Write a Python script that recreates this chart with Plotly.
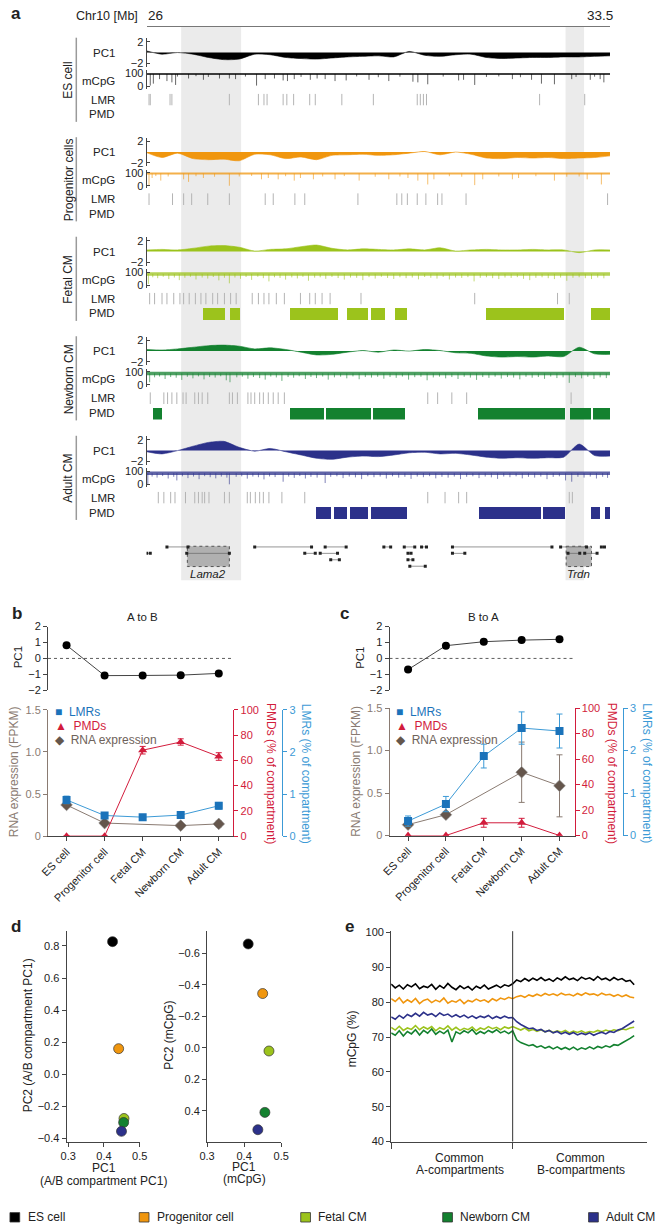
import plotly.graph_objects as go

W, H = 660, 1230
FONT = "Liberation Sans, Arial, Helvetica, sans-serif"
INK = "#222222"
AX = "#444444"

# ── panel a data: Chr10 26–33.5 Mb ─────────────────────────────
cells = ["ES cell", "Progenitor cells", "Fetal CM", "Newborn CM", "Adult CM"]
legend_names = ["ES cell", "Progenitor cell", "Fetal CM", "Newborn CM", "Adult CM"]
cell_colors = ["#000000", "#F0960E", "#9CC31C", "#13812F", "#2C318A"]

pc1_pos = [26.0, 26.25, 26.5, 26.75, 27.0, 27.25, 27.5, 27.75, 28.0, 28.25, 28.5,
           28.75, 29.0, 29.25, 29.5, 29.75, 30.0, 30.25, 30.5, 30.75, 31.0, 31.25,
           31.5, 31.75, 32.0, 32.25, 32.5, 32.75, 33.0, 33.25, 33.5]
pc1_es = [0.3, -0.3, 0.0, -0.3, -0.9, -1.3, -1.2, -0.3, -0.4, -0.9, -1.1, -1.2, -1.0,
          -0.8, -0.7, -0.6, -0.8, 0.2, -0.5, -0.7, -0.4, -0.3, -0.9, -1.1, -1.0, -0.9,
          -0.9, -0.8, -0.8, -0.7, -0.6]
pc1_prog = [-0.1, -1.0, -0.2, -1.2, -1.4, -1.3, -1.6, -0.4, -0.5, -1.2, -0.9, -1.4,
            -0.6, -0.5, -0.4, -0.6, -0.5, -0.2, 0.1, -0.5, 0.0, -0.4, -1.1, -1.2, -1.0,
            -1.1, -1.0, -1.2, -1.1, -1.0, -0.7]
pc1_fetal = [0.3, 0.4, 0.3, 0.6, 1.0, 1.1, 0.8, 0.1, 0.4, 0.5, 0.9, 1.2, 0.6, 0.3,
             0.5, 0.4, 0.3, 0.5, 0.3, 0.7, 0.1, 0.3, 0.4, 0.3, 0.3, 0.4, 0.3, 0.3,
             -0.2, 0.3, 0.3]
pc1_newborn = [0.3, 0.2, 0.4, 0.7, 1.0, 1.1, 0.9, 0.4, 0.6, 0.3, -0.2, -0.7, -0.6,
               -0.2, 0.1, -0.2, 0.2, 0.0, 0.3, 0.1, -0.3, -0.4, -0.9, -1.1, -1.0,
               -1.1, -0.9, -1.0, 0.7, -0.5, -0.6]
pc1_adult = [-0.2, -0.6, 0.0, 0.8, 1.5, 1.7, 0.6, -0.1, 0.4, -0.2, -0.8, -1.4, -1.6,
             -1.2, -1.0, -1.1, -0.8, -0.4, -0.3, -0.6, -0.5, -0.8, -1.2, -1.4, -1.3,
             -1.4, -1.3, -1.2, 1.2, -0.9, -1.0]
pc1_tracks = [pc1_es, pc1_prog, pc1_fetal, pc1_newborn, pc1_adult]

mcpg_level = [95, 95, 88, 88, 86]
es_dips = [(26.06, 5), (26.11, 20), (26.21, 55), (26.33, 40), (26.41, 30), (26.47, 10),
           (26.5, 75), (26.68, 60), (26.8, 78), (26.92, 50), (27.0, 72), (27.18, 60),
           (27.34, 60), (27.44, 55), (27.6, 75), (27.78, 5), (27.92, 55), (28.07, 60),
           (28.21, 45), (28.28, 40), (28.39, 55), (28.5, 72), (28.65, 50), (28.76, 60),
           (28.89, 55), (29.05, 40), (29.23, 45), (29.4, 76), (29.6, 50), (29.75, 70),
           (29.92, 40), (30.1, 74), (30.31, 35), (30.39, 30), (30.55, 15), (30.8, 75),
           (31.05, 45), (31.13, 50), (31.31, 10), (31.5, 72), (31.7, 76), (31.92, 55),
           (32.05, 70), (32.23, 50), (32.39, 20), (32.6, 15), (32.88, 55), (32.95, 72),
           (33.18, 50), (33.25, 74), (33.34, 55), (33.4, 30)]
prog_dips = [(26.04, 0), (26.09, 60), (26.15, 75), (26.23, 40), (26.35, 72), (26.6, 50),
             (26.68, 30), (26.8, 74), (26.92, 60), (27.1, 70), (27.34, 0), (27.5, 72),
             (27.7, 76), (27.86, 50), (27.97, 60), (28.13, 50), (28.25, 74), (28.39, 40),
             (28.49, 60), (28.7, 50), (28.85, 72), (29.05, 50), (29.2, 75), (29.44, 40),
             (29.7, 70), (29.92, 50), (30.1, 72), (30.23, 60), (30.39, 40), (30.55, 10),
             (30.65, 50), (30.9, 74), (31.1, 70), (31.31, 5), (31.44, 50), (31.7, 72),
             (31.92, 50), (32.02, 60), (32.3, 74), (32.6, 40), (32.8, 70), (33.0, 72),
             (33.13, 50), (33.36, 10)]
fetal_dips = [(26.03, 10), (26.1, 62), (26.18, 55), (26.27, 66), (26.36, 48), (26.45, 60),
              (26.53, 40), (26.62, 58), (26.71, 66), (26.8, 45), (26.9, 60), (26.99, 52),
              (27.08, 64), (27.17, 38), (27.26, 58), (27.34, 15), (27.43, 60), (27.52, 50),
              (27.61, 64), (27.7, 42), (27.8, 66), (27.89, 55), (27.98, 30), (28.07, 62),
              (28.16, 57), (28.25, 44), (28.35, 61), (28.44, 53), (28.53, 66), (28.62, 35),
              (28.72, 59), (28.81, 62), (28.9, 50), (29.0, 65), (29.1, 56), (29.2, 44),
              (29.3, 60), (29.4, 58), (29.5, 40), (29.6, 63), (29.7, 52), (29.8, 66),
              (29.9, 57), (30.0, 49), (30.1, 62), (30.2, 55), (30.3, 60), (30.4, 46),
              (30.5, 64), (30.6, 58), (30.7, 52), (30.8, 65), (30.9, 45), (31.0, 60),
              (31.1, 57), (31.2, 63), (31.3, 30), (31.4, 58), (31.5, 62), (31.6, 55),
              (31.7, 48), (31.8, 60), (31.9, 57), (32.0, 63), (32.1, 50), (32.2, 40),
              (32.3, 58), (32.4, 62), (32.5, 55), (32.6, 48), (32.7, 60), (32.8, 35),
              (32.9, 58), (33.0, 62), (33.1, 55), (33.2, 48), (33.3, 60), (33.4, 54)]
newborn_dips = [(26.05, 20), (26.13, 58), (26.21, 64), (26.3, 45), (26.39, 60), (26.48, 55),
                (26.57, 38), (26.66, 62), (26.75, 50), (26.84, 65), (26.93, 42), (27.02, 60),
                (27.11, 56), (27.2, 66), (27.29, 35), (27.35, 20), (27.46, 58), (27.55, 63),
                (27.64, 47), (27.73, 60), (27.83, 52), (27.92, 40), (28.01, 64), (28.1, 57),
                (28.19, 30), (28.29, 60), (28.38, 55), (28.47, 66), (28.57, 45), (28.66, 61),
                (28.75, 52), (28.85, 64), (28.94, 40), (29.04, 58), (29.14, 63), (29.24, 50),
                (29.34, 65), (29.44, 43), (29.54, 60), (29.64, 56), (29.74, 62), (29.84, 47),
                (29.94, 60), (30.04, 54), (30.14, 64), (30.24, 40), (30.34, 59), (30.44, 62),
                (30.54, 35), (30.64, 57), (30.74, 63), (30.84, 50), (30.94, 60), (31.04, 45),
                (31.14, 62), (31.24, 56), (31.34, 38), (31.44, 60), (31.54, 54), (31.64, 63),
                (31.74, 48), (31.84, 60), (31.94, 56), (32.04, 42), (32.14, 62), (32.24, 55),
                (32.34, 60), (32.44, 46), (32.54, 64), (32.64, 52), (32.74, 58), (32.84, 15),
                (32.94, 60), (33.04, 50), (33.14, 62), (33.24, 45), (33.34, 58), (33.44, 52)]
adult_dips = [(26.02, 0), (26.09, 60), (26.17, 52), (26.26, 64), (26.35, 45), (26.44, 58),
              (26.49, 30), (26.58, 62), (26.67, 48), (26.76, 60), (26.85, 40), (26.94, 63),
              (27.03, 55), (27.12, 46), (27.21, 60), (27.3, 52), (27.34, 0), (27.45, 58),
              (27.54, 62), (27.63, 44), (27.72, 60), (27.81, 55), (27.9, 38), (27.99, 61),
              (28.08, 56), (28.21, 20), (28.3, 60), (28.39, 50), (28.48, 64), (28.57, 45),
              (28.66, 58), (28.76, 52), (28.89, 10), (28.98, 58), (29.08, 62), (29.18, 48),
              (29.28, 60), (29.38, 54), (29.48, 40), (29.58, 62), (29.68, 55), (29.78, 60),
              (29.88, 45), (29.98, 62), (30.08, 52), (30.18, 58), (30.28, 42), (30.38, 60),
              (30.48, 55), (30.58, 63), (30.68, 46), (30.78, 58), (30.88, 52), (30.98, 60),
              (31.08, 40), (31.18, 58), (31.28, 62), (31.38, 48), (31.48, 60), (31.58, 54),
              (31.68, 42), (31.78, 60), (31.88, 55), (31.98, 62), (32.08, 46), (32.18, 58),
              (32.28, 52), (32.38, 60), (32.48, 40), (32.58, 57), (32.68, 62), (32.78, 30),
              (32.88, 20), (32.98, 58), (33.08, 52), (33.18, 60), (33.28, 45), (33.38, 58),
              (33.46, 50)]
mcpg_dips = [es_dips, prog_dips, fetal_dips, newborn_dips, adult_dips]

lmr_es = [26.04, 26.06, 26.38, 26.41, 27.34, 27.81, 27.90, 27.95, 28.21, 28.27, 28.38,
          28.64, 28.73, 29.16, 29.67, 30.38, 30.43, 30.48, 30.53, 32.36, 33.09]
lmr_prog = [26.04, 26.42, 26.60, 26.73, 26.99, 27.34, 27.92, 28.05, 28.40, 28.56, 29.42,
            30.05, 30.13, 30.22, 30.38, 30.52, 30.71, 30.78, 31.17, 33.46]
lmr_fetal = [26.05, 26.13, 26.25, 26.33, 26.44, 26.54, 26.60, 26.69, 26.79, 26.88, 26.96,
             27.07, 27.15, 27.26, 27.36, 27.45, 27.71, 27.81, 27.90, 27.98, 28.10, 28.23,
             28.49, 28.64, 28.73, 28.84, 28.97, 29.47, 31.31, 32.65, 32.84]
lmr_newborn = [26.06, 26.28, 26.34, 26.41, 26.49, 26.59, 26.64, 26.78, 26.84, 26.90,
               26.99, 27.34, 27.39, 27.47, 27.64, 27.69, 27.75, 27.83, 27.89, 27.97,
               28.05, 28.13, 28.23, 30.55, 30.71, 30.94, 31.18, 32.87]
lmr_adult = [26.19, 26.28, 26.39, 26.46, 26.63, 26.78, 26.84, 26.90, 26.94, 27.01, 27.26,
             27.34, 27.63, 27.68, 27.76, 27.83, 27.89, 27.98, 28.19, 28.56, 30.55, 30.83,
             31.05, 31.18, 32.84, 32.89]
lmr_tracks = [lmr_es, lmr_prog, lmr_fetal, lmr_newborn, lmr_adult]

pmd_fetal = [(26.90, 27.26), (27.34, 27.50), (28.31, 29.09), (29.24, 29.58),
             (29.62, 29.85), (30.01, 30.20), (31.48, 32.74), (33.18, 33.50)]
pmd_newborn = [(26.09, 26.25), (28.32, 28.86), (28.89, 29.62), (29.65, 30.17),
               (31.35, 32.76), (32.85, 33.18), (33.22, 33.50)]
pmd_adult = [(28.73, 28.98), (29.03, 29.24), (29.28, 29.57), (29.63, 30.20),
             (31.37, 32.38), (32.41, 32.76), (33.18, 33.33), (33.41, 33.50)]
pmd_tracks = [[], [], pmd_fetal, pmd_newborn, pmd_adult]

highlight_regions = [(26.56, 27.53), (32.78, 33.08)]
gene_names = ["Lama2", "Trdn"]
gene_boxes = [(26.66, 27.34), (32.79, 33.20)]
genes = [(26.33, 26.67, 0), (27.75, 28.67, 0), (28.89, 29.23, 0), (29.84, 29.95, 0),
         (30.17, 30.34, 0), (30.45, 30.53, 0), (30.95, 32.56, 0), (32.70, 33.12, 0),
         (33.36, 33.41, 0), (26.0, 26.06, 1), (26.65, 27.34, 1), (28.56, 28.73, 1),
         (28.81, 29.09, 1), (30.23, 30.28, 1), (30.95, 31.15, 1), (32.82, 33.01, 1),
         (33.09, 33.29, 1), (28.98, 29.12, 2), (30.23, 30.31, 2), (30.26, 30.51, 3)]

# ── panels b/c data ────────────────────────────────────────────
stages = ["ES cell", "Progenitor cell", "Fetal CM", "Newborn CM", "Adult CM"]
b_pc1 = [0.83, -1.08, -1.07, -1.05, -0.94]
b_lmr = [0.86, 0.49, 0.45, 0.50, 0.72]
b_lmr_err = [0.09, 0.06, 0.06, 0.07, 0.08]
b_pmd = [0, 0, 68, 74.5, 63]
b_pmd_err = [0, 0, 3, 2.5, 3]
b_rna = [0.37, 0.155, None, 0.125, 0.145]
b_rna_err = [0.03, 0.02, 0, 0.02, 0.035]

c_pc1 = [-0.7, 0.8, 1.05, 1.15, 1.2]
c_lmr = [0.34, 0.74, 1.87, 2.53, 2.46]
c_lmr_err = [0.12, 0.18, 0.28, 0.38, 0.40]
c_pmd = [0, 0, 10, 10, 0]
c_pmd_err = [0, 0, 3.5, 3.5, 0]
c_rna = [0.128, 0.245, None, 0.745, 0.585]
c_rna_err = [0.02, 0.03, 0, 0.355, 0.365]

# ── panel d data ───────────────────────────────────────────────
d_ab_pc1 = [0.424, 0.441, 0.456, 0.455, 0.449]
d_ab_pc2 = [0.827, 0.16, -0.275, -0.30, -0.355]
d_me_pc1 = [0.411, 0.450, 0.467, 0.456, 0.437]
d_me_pc2 = [-0.66, -0.345, 0.02, 0.41, 0.52]

# ── panel e data: mCpG along common A (bins 0-30) and B (31-60) ─
e_es = [85.2, 84.1, 84.9, 83.8, 85.0, 84.4, 85.3, 83.9, 84.6, 84.2, 85.1, 83.7, 84.8,
        84.0, 85.4, 84.3, 83.6, 84.7, 83.9, 84.5, 83.5, 84.6, 84.0, 84.9, 83.8, 84.4,
        84.9, 84.2, 85.0, 84.6, 85.3,
        86.4, 85.9, 86.8, 86.1, 86.9, 86.3, 87.1, 86.2, 86.7, 86.0, 87.0, 86.4, 87.3,
        86.5, 86.9, 86.2, 87.2, 86.6, 87.0, 86.3, 87.4, 86.5, 86.9, 86.2, 87.1, 86.4,
        86.8, 86.0, 86.3, 85.0]
e_prog = [81.0, 80.2, 81.3, 79.8, 80.7, 80.0, 81.1, 79.6, 80.5, 80.9, 79.9, 80.6, 80.1,
          81.2, 79.7, 80.4, 80.0, 80.8, 79.6, 80.5, 80.1, 80.9, 80.3, 80.7, 80.0, 81.0,
          80.4, 81.2, 80.8, 81.4, 81.0,
          81.6, 81.9, 81.4, 82.1, 81.7, 82.3, 81.8, 82.5, 82.0, 82.4, 81.9, 82.6, 82.1,
          82.3, 81.8, 82.5, 82.0, 82.7, 82.2, 82.4, 81.9, 82.6, 82.1, 82.3, 81.7, 82.2,
          81.6, 82.1, 81.5, 81.3]
e_fetal = [72.8, 72.0, 73.1, 71.9, 72.6, 72.2, 73.3, 72.1, 72.9, 72.3, 73.0, 71.8, 72.7,
           72.2, 73.2, 72.0, 72.8, 71.9, 72.5, 72.1, 72.9, 71.8, 72.6, 72.2, 73.0, 72.4,
           72.8, 72.1, 72.9, 72.5, 73.0,
           72.4, 72.0, 72.6, 71.8, 72.2, 71.6, 72.1, 71.5, 71.9, 71.3, 71.8, 71.4, 71.9,
           71.2, 71.7, 71.3, 71.8, 71.2, 71.6, 71.4, 71.9, 71.5, 72.0, 71.6, 72.1, 71.8,
           72.3, 72.1, 72.6, 72.8]
e_newborn = [71.2, 70.5, 71.8, 70.3, 71.6, 70.9, 72.1, 70.6, 71.9, 71.1, 72.3, 70.8,
             71.7, 71.0, 72.0, 68.6, 71.5, 70.9, 71.8, 71.2, 72.2, 70.8, 71.6, 71.0,
             71.9, 71.3, 72.1, 71.2, 71.7, 71.0, 71.8,
             69.2, 68.4, 68.0, 67.5, 67.8, 67.1, 67.5, 66.8, 67.3, 66.6, 67.2, 66.5,
             67.0, 66.4, 67.1, 66.3, 66.9, 66.5, 67.2, 66.6, 67.3, 66.9, 67.5, 67.1,
             67.8, 67.6, 68.3, 68.9, 69.6, 70.4]
e_adult = [75.8, 75.1, 76.2, 75.4, 76.5, 75.9, 76.8, 76.0, 77.1, 76.3, 76.7, 75.9, 76.9,
           76.2, 76.6, 75.8, 76.4, 75.7, 76.3, 75.5, 76.1, 75.4, 76.0, 75.6, 76.2, 75.3,
           75.9, 75.4, 76.0, 75.5, 75.6,
           74.4, 73.6, 73.1, 72.4, 72.6, 71.9, 72.2, 71.5, 71.9, 71.2, 71.6, 70.9, 71.4,
           70.8, 71.3, 70.6, 71.1, 70.7, 71.2, 70.5, 71.0, 71.4, 70.9, 71.6, 71.3, 72.0,
           72.4, 73.1, 73.8, 74.6]
e_series = [e_es, e_prog, e_fetal, e_adult, e_newborn]
e_series_colors = [cell_colors[0], cell_colors[1], cell_colors[2], cell_colors[4], cell_colors[3]]

LMR_BLUE, LMR_AX = "#1B73BA", "#3C9AD6"
PMD_RED = "#D21C3C"
RNA_BROWN, RNA_AX = "#65564C", "#8A7B72"


# ── helpers ────────────────────────────────────────────────────
def ydom(top, bottom):
    return [1 - bottom / H, 1 - top / H]


axes = {}
count = {"x": 0, "y": 0}


def new_axis(kind, **kw):
    count[kind] += 1
    n = count[kind]
    suffix = "" if n == 1 else str(n)
    base = dict(showgrid=False, zeroline=False, linecolor=AX, linewidth=1, tickcolor=AX,
                tickfont=dict(size=11, color=INK, family=FONT))
    base.update(kw)
    axes[f"{kind}axis{suffix}"] = base
    return f"{kind}{suffix}"


def akey(name):
    return name[0] + "axis" + name[1:]


annotations, shapes = [], []


def ann(text, x, y, size=11, color=INK, xanchor="center", angle=0, xref="paper"):
    annotations.append(dict(text=text, x=x if xref != "paper" else x / W, y=1 - y / H,
                            xref=xref, yref="paper", showarrow=False, xanchor=xanchor,
                            yanchor="middle", textangle=angle,
                            font=dict(size=size, color=color, family=FONT)))


fig = go.Figure()

# ── panel a ────────────────────────────────────────────────────
gx = new_axis("x", domain=[142 / W, 617 / W], range=[26, 33.5], anchor="free",
              position=1 - 20 / H, showline=True, linecolor="#777777", ticks="",
              showticklabels=False)
ann("<b>a</b>", 1, 8, size=17, xanchor="left")
ann("Chr10 [Mb]", 101, 10.5, size=12.5)
ann("26", 141, 10, size=13.5, xanchor="left")
ann("33.5", 622, 10, size=13.5, xanchor="right")

for lo, hi in highlight_regions:
    shapes.append(dict(type="rect", xref=gx, yref="paper", x0=lo, x1=hi,
                       y0=1 - 580 / H, y1=1 - 21 / H, fillcolor="#EBEBEB",
                       line=dict(width=0), layer="below"))

for i, (name, col) in enumerate(zip(cells, cell_colors)):
    o = 100.5 * i
    ypc = new_axis("y", domain=ydom(32.7 + o, 61.3 + o), range=[-2.6, 2.6], anchor="free",
                   position=141 / W, showline=True, ticks="inside", ticklen=3,
                   tickvals=[-2, 2], ticktext=["\u22122", "2"])
    fig.add_trace(go.Scatter(x=pc1_pos, y=pc1_tracks[i], xaxis=gx, yaxis=ypc, mode="lines",
                             fill="tozeroy", fillcolor=col,
                             line=dict(color=col, width=0.6, shape="spline", smoothing=0.7)))

    ym = new_axis("y", domain=ydom(65 + o, 83.5 + o), range=[-19, 123], anchor="free",
                  position=141 / W, showline=True, ticks="inside", ticklen=3,
                  tickvals=[0, 100], ticktext=["0", "100"])
    lvl = mcpg_level[i]
    fig.add_trace(go.Scatter(x=[26, 33.5], y=[lvl, lvl], xaxis=gx, yaxis=ym, mode="lines",
                             line=dict(color=col, width=2.2 if i < 2 else 3.5), opacity=0.75))
    dx, dy = [], []
    for p, v in mcpg_dips[i]:
        dx += [p, p, None]
        dy += [lvl, v, None]
    fig.add_trace(go.Scatter(x=dx, y=dy, xaxis=gx, yaxis=ym, mode="lines",
                             line=dict(color=col, width=0.8), opacity=0.75))

    yl = new_axis("y", domain=ydom(88.5 + o, 100.5 + o), range=[0, 1], anchor=gx, visible=False)
    lx, ly = [], []
    for p in lmr_tracks[i]:
        lx += [p, p, None]
        ly += [0, 1, None]
    fig.add_trace(go.Scatter(x=lx, y=ly, xaxis=gx, yaxis=yl, mode="lines",
                             line=dict(color="#B4B4B4", width=1)))

    yp = new_axis("y", domain=ydom(104 + o, 116 + o), range=[0, 1], anchor=gx, visible=False)
    if pmd_tracks[i]:
        fig.add_trace(go.Bar(x=[(a + b) / 2 for a, b in pmd_tracks[i]],
                             y=[1] * len(pmd_tracks[i]), base=0,
                             width=[b - a for a, b in pmd_tracks[i]],
                             xaxis=gx, yaxis=yp, marker=dict(color=col, line=dict(width=0))))

    for lab, yy in [("PC1", 47 + o), ("mCpG", 75.3 + o), ("LMR", 94.5 + o), ("PMD", 109.5 + o)]:
        ann(lab, 112, yy, size=11.5, xanchor="right")
    ann(name, 62, 75 + o, size=12, angle=-90)
    shapes.append(dict(type="line", xref="paper", yref="paper", x0=70 / W, x1=70 / W,
                       y0=1 - (117 + o) / H, y1=1 - (32 + o) / H,
                       line=dict(color="#9A9A9A", width=1.5)))

# gene track
yg = new_axis("y", domain=ydom(543, 569), range=[3.5, -0.5], anchor=gx, visible=False)
for (lo, hi) in gene_boxes:
    shapes.append(dict(type="rect", xref=gx, yref=yg, x0=lo, x1=hi, y0=-0.1, y1=3.05,
                       fillcolor="#AAAAAA", opacity=0.9,
                       line=dict(color="#444444", width=1, dash="dot"), layer="below"))
gxs, gys = [], []
for a, b, r in genes:
    gxs += [a, b, None]
    gys += [r, r, None]
fig.add_trace(go.Scatter(x=gxs, y=gys, xaxis=gx, yaxis=yg, mode="lines+markers",
                         line=dict(color="#666666", width=0.7),
                         marker=dict(symbol="square", size=3, color="#222222")))
for nm, (lo, hi) in zip(gene_names, gene_boxes):
    ann(f"<i>{nm}</i>", (lo + hi) / 2, 574, size=11.5, xref=gx)


# ── panels b and c ─────────────────────────────────────────────
def stage_panel(letter, title, x_left, x_first, step, x_red, x_blue,
                pc1, lmr, lmr_err, pmd, pmd_err, rna, rna_err, y_top, y_zero):
    lo = (x_left - x_first) / step
    hi = (x_red - x_first) / step
    idx = list(range(len(stages)))
    ann(f"<b>{letter}</b>", x_left - 39 if letter == "b" else x_left - 53, 613, size=17,
        xanchor="left")
    ann(title, x_first + 2 * step, 617, size=11.5)

    xt = new_axis("x", domain=[x_left / W, x_red / W], range=[lo, hi], showline=False,
                  showticklabels=False, ticks="")
    yt = new_axis("y", domain=ydom(626.7, 691), range=[-2, 2], anchor=xt, showline=True,
                  ticks="outside", ticklen=4, tickvals=[-2, -1, 0, 1, 2])
    axes[akey(xt)]["anchor"] = yt
    shapes.append(dict(type="line", xref=f"{xt} domain", yref=yt, x0=0, x1=1, y0=0, y1=0,
                       line=dict(color="#333333", width=0.8, dash="dot")))
    fig.add_trace(go.Scatter(x=idx, y=pc1, xaxis=xt, yaxis=yt, mode="lines+markers",
                             line=dict(color="#444444", width=1),
                             marker=dict(color="#000000", size=8)))
    ann("PC1", x_left - 31, 658, size=11.5, angle=-90)

    xl = new_axis("x", domain=[x_left / W, x_red / W], range=[lo, hi], showline=True,
                  ticks="outside", ticklen=4, tickvals=idx, ticktext=stages, tickangle=-45,
                  tickfont=dict(size=11, color=INK, family=FONT))
    yl = new_axis("y", domain=ydom(y_top, y_zero), range=[0, 1.5], anchor=xl, showline=True,
                  linecolor=RNA_AX, tickcolor=RNA_AX, ticks="outside", ticklen=4,
                  tickvals=[0, 0.5, 1, 1.5], ticktext=["0", "0.5", "1.0", "1.5"],
                  tickfont=dict(size=11, color=RNA_AX, family=FONT))
    axes[akey(xl)]["anchor"] = yl
    yr = new_axis("y", overlaying=yl, side="right", anchor=xl, range=[0, 100],
                  tickvals=[0, 20, 40, 60, 80, 100], showline=True, linecolor=PMD_RED,
                  tickcolor=PMD_RED, ticks="outside", ticklen=4,
                  tickfont=dict(size=11, color=PMD_RED, family=FONT))
    yb = new_axis("y", overlaying=yl, side="right", anchor="free", position=x_blue / W,
                  range=[0, 3], tickvals=[0, 1, 2, 3], showline=True, linecolor=LMR_AX,
                  tickcolor=LMR_AX, ticks="outside", ticklen=4,
                  tickfont=dict(size=11, color=LMR_AX, family=FONT))

    fig.add_trace(go.Scatter(x=idx, y=rna, xaxis=xl, yaxis=yl, mode="lines+markers",
                             connectgaps=True, line=dict(color=RNA_AX, width=1),
                             marker=dict(symbol="diamond", size=9, color=RNA_BROWN,
                                         line=dict(color="#8E8E8E", width=0.6)),
                             error_y=dict(type="data", array=rna_err, color=RNA_AX,
                                          thickness=1, width=3)))
    fig.add_trace(go.Scatter(x=idx, y=pmd, xaxis=xl, yaxis=yr, mode="lines+markers",
                             line=dict(color=PMD_RED, width=1),
                             marker=dict(symbol="triangle-up", size=8, color=PMD_RED),
                             error_y=dict(type="data", array=pmd_err, color=PMD_RED,
                                          thickness=1, width=3)))
    fig.add_trace(go.Scatter(x=idx, y=lmr, xaxis=xl, yaxis=yb, mode="lines+markers",
                             line=dict(color=LMR_AX, width=1),
                             marker=dict(symbol="square", size=8, color=LMR_BLUE),
                             error_y=dict(type="data", array=lmr_err, color=LMR_AX,
                                          thickness=1, width=3)))

    lx = x_left + 5
    ann(f'<span style="color:{LMR_BLUE}">\u25a0</span>  LMRs', lx, 713, size=12,
        color=LMR_BLUE, xanchor="left")
    ann(f'<span style="color:{PMD_RED}">\u25b2</span>  PMDs', lx, 727, size=12,
        color=PMD_RED, xanchor="left")
    ann(f'<span style="color:{RNA_BROWN}">\u25c6</span>  RNA expression', lx, 741,
        size=12, color="#6E625A", xanchor="left")
    ann("RNA expression (FPKM)", x_left - 34, 773, size=12, color=RNA_AX, angle=-90)
    ann("PMDs (% of compartment)", x_red + 38, 775, size=12, color=PMD_RED, angle=90)
    ann("LMRs (% of compartment)", x_blue + 24, 775, size=12, color=LMR_AX, angle=90)


stage_panel("b", "A to B", 41, 60, 39, 231, 281, b_pc1, b_lmr, b_lmr_err, b_pmd,
            b_pmd_err, b_rna, b_rna_err, 710.7, 838.3)
stage_panel("c", "B to A", 391, 410, 38.8, 580.7, 630, c_pc1, c_lmr, c_lmr_err, c_pmd,
            c_pmd_err, c_rna, c_rna_err, 709, 837.7)

# ── panel d ────────────────────────────────────────────────────
ann("<b>d</b>", 1, 930, size=17, xanchor="left")
xd1 = new_axis("x", domain=[60 / W, 135 / W], range=[0.2954, 0.5], showline=True,
               ticks="outside", ticklen=4, tickvals=[0.3, 0.4, 0.5], tickformat=".1f")
yd1 = new_axis("y", domain=ydom(934, 1146.7), range=[-0.4185, 0.894], anchor=xd1,
               showline=True, ticks="outside", ticklen=4,
               tickvals=[-0.4, -0.2, 0, 0.2, 0.4, 0.6, 0.8], tickformat=".1f")
axes[akey(xd1)]["anchor"] = yd1
xd2 = new_axis("x", domain=[204 / W, 280 / W], range=[0.3, 0.5], showline=True,
               ticks="outside", ticklen=4, tickvals=[0.3, 0.4, 0.5], tickformat=".1f")
yd2 = new_axis("y", domain=ydom(934, 1146.7), range=[0.595, -0.743], anchor=xd2,
               showline=True, ticks="outside", ticklen=4,
               tickvals=[-0.6, -0.4, -0.2, 0, 0.2, 0.4], tickformat=".1f")
axes[akey(xd2)]["anchor"] = yd2
for xs, ys, xa, ya in [(d_ab_pc1, d_ab_pc2, xd1, yd1), (d_me_pc1, d_me_pc2, xd2, yd2)]:
    fig.add_trace(go.Scatter(x=xs, y=ys, xaxis=xa, yaxis=ya, mode="markers",
                             marker=dict(size=10, color=cell_colors,
                                         line=dict(color="#333333", width=0.7))))
ann("PC2 (A/B compartment PC1)", 20, 1040, size=12, angle=-90)
ann("PC1", 98, 1173, size=12)
ann("(A/B compartment PC1)", 98, 1187, size=12)
ann("PC2 (mCpG)", 165, 1040, size=12, angle=-90)
ann("PC1", 242, 1172, size=12)
ann("(mCpG)", 242, 1185, size=12)

# ── panel e ────────────────────────────────────────────────────
ann("<b>e</b>", 343, 930, size=17, xanchor="left")
xe = new_axis("x", domain=[392.7 / W, 655 / W], range=[0, 63.2], showline=True,
              ticks="outside", ticklen=6, tickvals=[0, 30], ticktext=["", ""])
ye = new_axis("y", domain=ydom(934.3, 1146.7), range=[40, 100.4], anchor=xe,
              showline=True, ticks="outside", ticklen=4,
              tickvals=[40, 50, 60, 70, 80, 90, 100])
axes[akey(xe)]["anchor"] = ye
shapes.append(dict(type="line", xref=xe, yref=f"{ye} domain", x0=30, x1=30, y0=0, y1=1,
                   line=dict(color="#333333", width=1)))
for vals, col in zip(e_series, e_series_colors):
    fig.add_trace(go.Scatter(x=list(range(len(vals))), y=vals, xaxis=xe, yaxis=ye,
                             mode="lines", line=dict(color=col, width=1.6)))
ann("mCpG (%)", 352, 1043, size=12, angle=-90)
ann("Common", 463, 1163, size=12)
ann("A-compartments", 463, 1175.5, size=12)
ann("Common", 587, 1163, size=12)
ann("B-compartments", 587, 1175.5, size=12)

# ── bottom legend ──────────────────────────────────────────────
legend_x = [2, 134.5, 300, 445.5, 595]
for nm, col, lx in zip(legend_names, cell_colors, legend_x):
    shapes.append(dict(type="rect", xref="paper", yref="paper", x0=lx / W, x1=(lx + 10) / W,
                       y0=1 - 1228 / H, y1=1 - 1218.5 / H, fillcolor=col,
                       line=dict(color="#333333", width=0.8)))
    ann(nm, lx + 16, 1223.3, size=12, xanchor="left")

fig.update_layout(
    width=W, height=H, margin=dict(l=0, r=0, t=0, b=0),
    paper_bgcolor="white", plot_bgcolor="rgba(0,0,0,0)",
    showlegend=False, font=dict(family=FONT, size=11, color=INK),
    annotations=annotations, shapes=shapes, bargap=0, **axes,
)

fig.write_html("out.html",
               config={"displayModeBar": False},
               post_script="document.body.style.margin='0px';"
                           "document.body.style.overflow='hidden';")
